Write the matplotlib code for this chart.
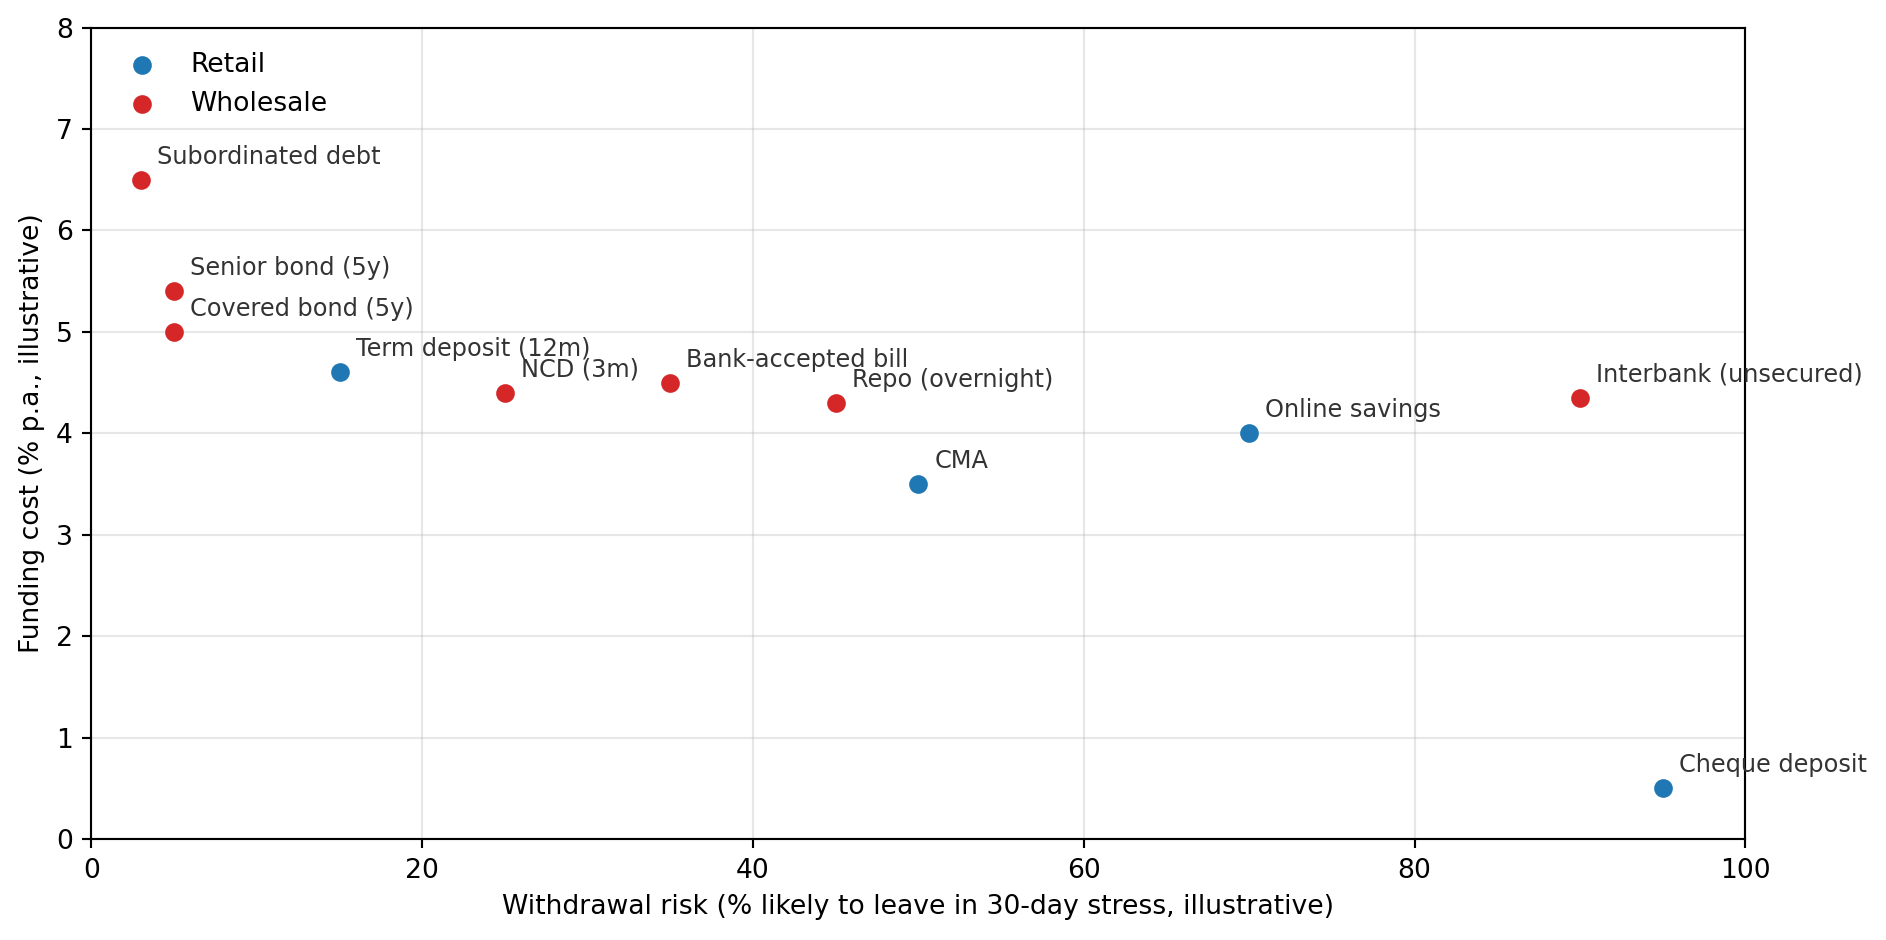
import numpy as np
import matplotlib.pyplot as plt

# retail funding sources
retail_names = ['Term deposit (12m)', 'CMA', 'Online savings', 'Cheque deposit']
retail_risk = [15, 50, 70, 95]
retail_cost = [4.6, 3.5, 4.0, 0.5]

# wholesale funding sources
wholesale_names = ['Subordinated debt', 'Senior bond (5y)', 'Covered bond (5y)', 'NCD (3m)',
                   'Bank-accepted bill', 'Repo (overnight)', 'Interbank (unsecured)']
wholesale_risk = [3, 5, 5, 25, 35, 45, 90]
wholesale_cost = [6.5, 5.4, 5.0, 4.4, 4.5, 4.3, 4.35]

fig = plt.figure(figsize=(1886/192, 940/192), dpi=192)
ax = fig.add_axes([0.0485, 0.1074, 0.9254 - 0.0485, 0.9706 - 0.1074])

ax.scatter(retail_risk, retail_cost, color='#1f77b4', s=36, label='Retail', zorder=3)
ax.scatter(wholesale_risk, wholesale_cost, color='#d62728', s=36, label='Wholesale', zorder=3)

for name, x, y in zip(retail_names + wholesale_names, retail_risk + wholesale_risk,
                      retail_cost + wholesale_cost):
    ax.annotate(name, (x, y), xytext=(6, 6), textcoords='offset points',
                fontsize=9, color='#333333')

ax.set_xlim(0, 100)
ax.set_ylim(0, 8)
ax.grid(True, alpha=0.3)
ax.set_axisbelow(True)
ax.set_xlabel('Withdrawal risk (% likely to leave in 30-day stress, illustrative)')
ax.set_ylabel('Funding cost (% p.a., illustrative)')
ax.legend(loc='upper left', frameon=False)

fig.savefig('out.png', dpi=192)
